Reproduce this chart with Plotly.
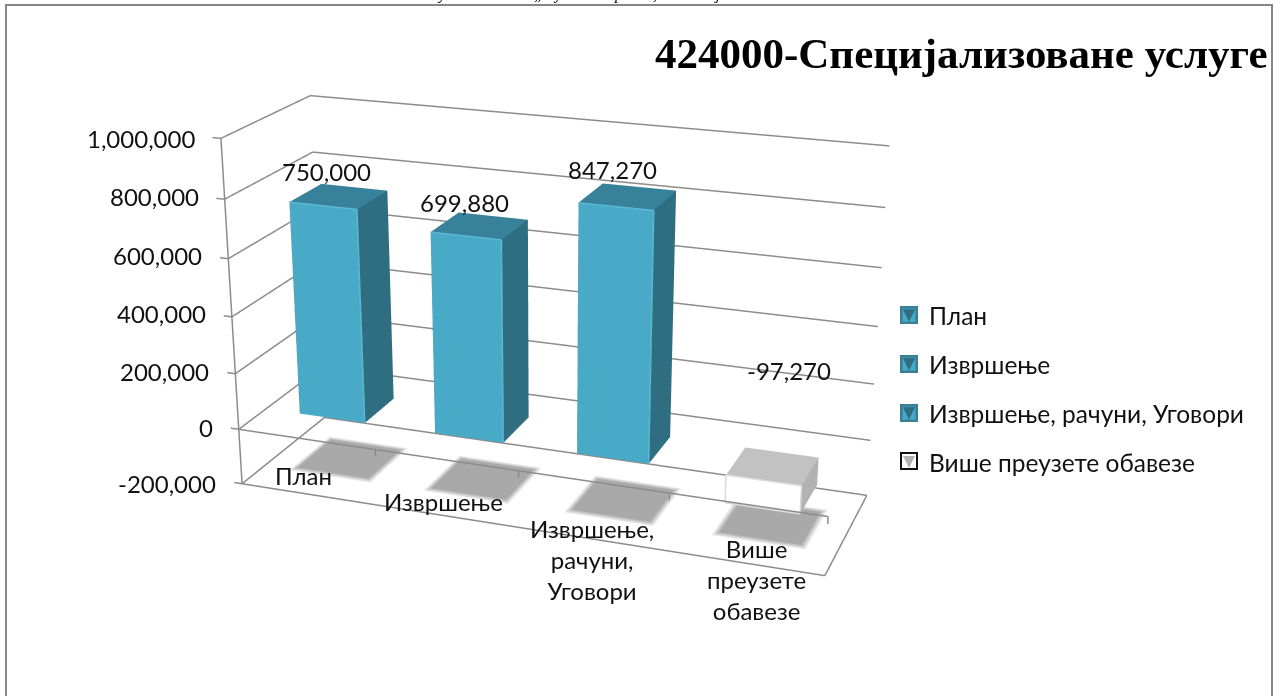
import plotly.graph_objects as go

categories = ["План", "Извршење", "Извршење, рачуни, Уговори", "Више преузете обавезе"]
category_lines = ["План", "Извршење", "Извршење,<br>рачуни,<br>Уговори", "Више<br>преузете<br>обавезе"]
values = [750000, 699880, 847270, -97270]
value_labels = ["750,000", "699,880", "847,270", "-97,270"]
axis_values = [-200000, 0, 200000, 400000, 600000, 800000, 1000000]
axis_labels = ["-200,000", "0", "200,000", "400,000", "600,000", "800,000", "1,000,000"]
title = "424000-Специјализоване услуге"
clipped_line_glyphs = ["у", "„", "у", "р", ",", "ј"]

# layout / style
FONT = "Lato"
INK = "#111111"
GRID = "#8c8c8c"
Z0, Z1 = -200000, 1000000
front_c = ["#48aac6", "#48aac6", "#48aac6", "#ffffff"]
side_c = ["#2f6e80", "#2f6e80", "#2f6e80", "#b2b2b2"]
top_c = ["#37829a", "#37829a", "#37829a", "#c2c2c2"]
bevel_c = ["#5cb9d3", "#5cb9d3", "#5cb9d3", "#dcdcdc"]
swatch_c = ["#3f8fa8", "#3f8fa8", "#3f8fa8", "#ffffff"]
swatch_line = ["#3a7f96", "#3a7f96", "#3a7f96", "#111111"]
swatch_y = [315, 364, 413, 461]
HALF_W, Y0, Y1 = 0.2437, 0.3108, 0.6838
axis_yshift = [0, 2, 2, 3, 3, 3, 0]
label_shift = [(-13, 25), (-16, 23), (-16, 27), (16, 95)]
cat_shift = [(-5, 19), (-4, 15), (-1, -20), (11, -16)]
glyph_x = [442, 538, 558, 618, 655, 717]

# the scene is taller than the window: the 45 degree lens of the 3D scene needs this height
# to give the flat perspective of the chart; the page window shows only part of it.
FIG_W, FIG_H, TOP_CUT = 1284, 1654, 435
def fx(x): return x / FIG_W
def fy(y): return 1 - (y + TOP_CUT) / FIG_H

def box(x0, x1, y0, y1, z0, z1):
    xs = [x0, x1, x1, x0, x0, x1, x1, x0]
    ys = [y0, y0, y1, y1, y0, y0, y1, y1]
    zs = [z0, z0, z0, z0, z1, z1, z1, z1]
    quads = [(0,1,5,4), (1,2,6,5), (4,5,6,7), (3,2,6,7), (0,3,7,4), (0,1,2,3)]
    i, j, k = [], [], []
    for a,b,c,d in quads:
        i += [a,a]; j += [b,c]; k += [c,d]
    return xs, ys, zs, i, j, k

FLAT = dict(ambient=1, diffuse=0, specular=0, fresnel=0, roughness=1)
fig = go.Figure()
# floor shadows, soft edge built from layers
for c in range(4):
    for n, (hw, yy, col) in enumerate([(0.305, 0.25, "#ececec"), (0.295, 0.24, "#d8d8d8"),
                                       (0.283, 0.225, "#c0c0c0"), (0.27, 0.21, "#a9a9a9")]):
        lift = n * 400
        xs, ys, zs, i, j, k = box(c-hw, c+hw, 0.5-yy, 0.5+yy, Z0+lift, Z0+lift)
        fig.add_trace(go.Mesh3d(x=xs, y=ys, z=zs, i=i, j=j, k=k, color=col, flatshading=True,
                                lighting=FLAT, hoverinfo="skip", showlegend=False))
# axis frame and grid
lx, ly, lz = [], [], []
def seg(a, b, store=None):
    X, Y, Z = store or (lx, ly, lz)
    X.extend([a[0], b[0], None]); Y.extend([a[1], b[1], None]); Z.extend([a[2], b[2], None])
for v in axis_values:
    seg((-0.5,0,v), (-0.5,1,v)); seg((-0.5,1,v), (3.5,1,v))
    seg((-0.5,0,v), (-0.56,0,v))
seg((-0.5,0,Z0), (-0.5,0,Z1))
seg((-0.5,0,0), (3.5,0,0))
seg((-0.5,0,Z0), (3.5,0,Z0)); seg((3.5,0,Z0), (3.5,1,Z0))
for c in range(4):
    seg((c+0.5,0,0), (c+0.5,0,-25000))
fig.add_trace(go.Scatter3d(x=lx, y=ly, z=lz, mode="lines", line=dict(color=GRID, width=3),
                           hoverinfo="skip", showlegend=False))
# bars
for c, (name, v) in enumerate(zip(categories, values)):
    lo, hi = min(v,0), max(v,0)
    x0, x1 = c-HALF_W, c+HALF_W
    xs, ys, zs, i, j, k = box(x0, x1, Y0, Y1, lo, hi)
    fc = [front_c[c]]*2 + [side_c[c]]*2 + [top_c[c]]*2 + [side_c[c]]*6
    fig.add_trace(go.Mesh3d(x=xs, y=ys, z=zs, i=i, j=j, k=k, facecolor=fc, flatshading=True,
                            color=front_c[c], name=name, showlegend=True, legendgroup=name,
                            lighting=FLAT))
    # light bevel on the front edges
    e = ([], [], [])
    yb = Y0 - 0.003
    seg((x0,yb,hi), (x1,yb,hi), e); seg((x1,yb,lo), (x1,yb,hi), e)
    if v < 0:
        seg((x0,yb,lo), (x0,yb,hi), e); seg((x0,yb,lo), (x1,yb,lo), e)
    fig.add_trace(go.Scatter3d(x=e[0], y=e[1], z=e[2], mode="lines", line=dict(color=bevel_c[c], width=3),
                               hoverinfo="skip", showlegend=False))

annots = []
for v, t, dy in zip(axis_values, axis_labels, axis_yshift):
    annots.append(dict(x=-0.5, y=0, z=v, text=t, showarrow=False, xanchor="right", xshift=-24, yshift=dy,
                       font=dict(family=FONT, size=24, color=INK)))
for c, (v, t, s) in enumerate(zip(values, value_labels, label_shift)):
    annots.append(dict(x=c, y=0.5, z=max(v,0), text=t, showarrow=False, xshift=s[0], yshift=s[1],
                       font=dict(family=FONT, size=24, color=INK)))
for c, (t, s) in enumerate(zip(category_lines, cat_shift)):
    annots.append(dict(x=c, y=0, z=Z0, text=t, showarrow=False, xshift=s[0], yshift=s[1],
                       font=dict(family=FONT, size=24, color=INK)))

page_notes = [dict(xref="paper", yref="paper", x=fx(1270), y=fy(54), text="<b>"+title+"</b>", showarrow=False,
                   xanchor="right", yanchor="middle",
                   font=dict(family="Liberation Serif", size=43, color="#000"))]
for x, g in zip(glyph_x, clipped_line_glyphs):
    page_notes.append(dict(xref="paper", yref="paper", x=fx(x), y=fy(5), text="<i>"+g+"</i>", showarrow=False,
                           xanchor="center", yanchor="bottom",
                           font=dict(family="Liberation Serif", size=16, color="#000")))

shapes = [dict(type="rect", xref="paper", yref="paper", x0=fx(6), x1=fx(1272), y0=fy(720), y1=fy(5),
               line=dict(color="#868686", width=2), fillcolor="rgba(0,0,0,0)")]
for yc, fc, lc in zip(swatch_y, swatch_c, swatch_line):
    shapes.append(dict(type="rect", xref="paper", yref="paper", x0=fx(901), x1=fx(917), y0=fy(yc+8), y1=fy(yc-8),
                       line=dict(color=lc, width=2), fillcolor=fc))

# axis ranges carry a small margin around the chart box so that lines on its edges are not clipped
MX, MY, MZ = 0.1, 0.05, 60000
fig.update_layout(
    width=FIG_W, height=FIG_H, margin=dict(l=0, r=0, t=0, b=0), paper_bgcolor="white",
    font=dict(family=FONT, color=INK),
    scene=dict(
        domain=dict(x=[0, 2*547.7/FIG_W], y=[0, 1]),
        bgcolor="rgba(0,0,0,0)",
        xaxis=dict(visible=False, range=[-0.5-MX, 3.5+MX]),
        yaxis=dict(visible=False, range=[-MY, 1+MY]),
        zaxis=dict(visible=False, range=[Z0-MZ, Z1+MZ]),
        aspectmode="manual",
        aspectratio=dict(x=(4+2*MX)/4, y=0.3154*(1+2*MY), z=0.5966*(Z1-Z0+2*MZ)/(Z1-Z0)),
        camera=dict(eye=dict(x=1.0418, y=-2.8727, z=1.0791),
                    center=dict(x=0.0270, y=-0.0979, z=-0.0828),
                    up=dict(x=0, y=0, z=1), projection=dict(type="perspective")),
        annotations=annots,
    ),
    legend=dict(x=fx(889), y=fy(293), xanchor="left", yanchor="top", tracegroupgap=14,
                font=dict(family=FONT, size=24.5, color=INK), bgcolor="rgba(0,0,0,0)"),
    shapes=shapes,
    annotations=page_notes,
)
post = ("document.documentElement.style.overflow='hidden';"
        "document.body.style.margin='0';document.body.style.overflow='hidden';"
        "document.getElementById('{plot_id}').style.marginTop='-%dpx';" % TOP_CUT)
fig.write_html("out.html", config=dict(displayModeBar=False), post_script=post)
